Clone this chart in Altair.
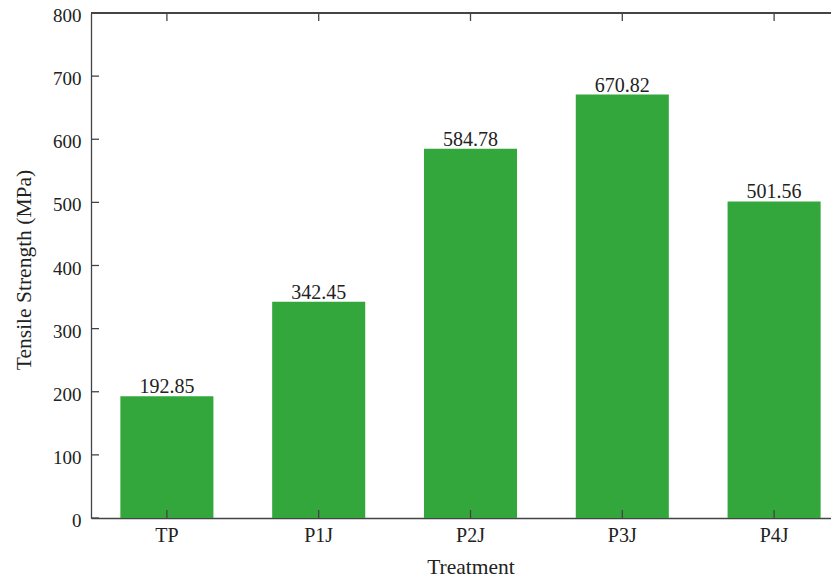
import altair as alt
import pandas as pd

categories = ["TP", "P1J", "P2J", "P3J", "P4J"]
values = [192.85, 342.45, 584.78, 670.82, 501.56]
labels = ["192.85", "342.45", "584.78", "670.82", "501.56"]
y_ticks = [0, 100, 200, 300, 400, 500, 600, 700, 800]

df = pd.DataFrame({"Treatment": categories, "Value": values, "Label": labels})
tick_df = pd.DataFrame({"t": y_ticks})

FONT = "Liberation Serif"
AX = "#444444"
H = 505
W = 740
XR = 759

xscale = alt.Scale(domain=categories, range=[0, XR], paddingInner=0.387, paddingOuter=0.1935)
yscale = alt.Scale(domain=[0, 800], nice=False)

bars = alt.Chart(df).mark_bar(color="#33a73c").encode(
    x=alt.X("Treatment:N", scale=xscale, sort=categories,
            axis=alt.Axis(title="Treatment", titleFont=FONT, titleFontSize=21.5,
                          titleFontWeight="normal", titleColor="#222222",
                          titleX=XR / 2, titleY=55, titleBaseline="alphabetic",
                          labelFont=FONT, labelFontSize=20, labelColor="#222222",
                          labelAngle=0, labelBaseline="alphabetic", labelPadding=23,
                          ticks=False, tickSize=0, domainColor=AX, domainWidth=1.3,
                          grid=False)),
    y=alt.Y("Value:Q", scale=yscale,
            axis=alt.Axis(values=y_ticks, title="Tensile Strength (MPa)",
                          titleFont=FONT, titleFontSize=21.5, titleFontWeight="normal",
                          titleColor="#222222", titleAngle=270, titleX=-61, titleY=H / 2 + 4,
                          titleBaseline="alphabetic",
                          labelFont=FONT, labelFontSize=19, labelColor="#222222",
                          labelBaseline="alphabetic", labelOffset=8.5,
                          labelPadding=10, ticks=False, tickSize=0,
                          domainColor=AX, domainWidth=1.3, grid=False)),
)

text = alt.Chart(df).mark_text(font=FONT, fontSize=20, color="#222222",
                               baseline="alphabetic", dy=-3).encode(
    x=alt.X("Treatment:N", scale=xscale, sort=categories),
    y=alt.Y("Value:Q", scale=yscale),
    text="Label:N",
)

yt = alt.Chart(tick_df).mark_rule(color=AX, strokeWidth=1.3).encode(
    y=alt.Y("t:Q", scale=yscale),
    x=alt.value(0), x2=alt.value(8),
)

xt_bottom = alt.Chart(df).mark_rule(color=AX, strokeWidth=1.3).encode(
    x=alt.X("Treatment:N", scale=xscale, sort=categories),
    y=alt.value(H), y2=alt.value(H - 8),
)
xt_top = alt.Chart(df).mark_rule(color=AX, strokeWidth=1.3).encode(
    x=alt.X("Treatment:N", scale=xscale, sort=categories),
    y=alt.value(0), y2=alt.value(8),
)
top_line = alt.Chart(df).mark_rule(color=AX, strokeWidth=1.3).encode(
    x=alt.value(0), x2=alt.value(XR), y=alt.value(0),
)

chart = alt.layer(bars, text, yt, xt_bottom, xt_top, top_line).properties(
    width=W, height=H,
    autosize=alt.AutoSizeParams(type="none"),
    padding={"left": 83, "top": 5, "right": 0, "bottom": 62},
).configure_view(stroke="transparent", strokeWidth=0)

chart.save("out.html", embed_options={"renderer": "svg", "actions": False})
